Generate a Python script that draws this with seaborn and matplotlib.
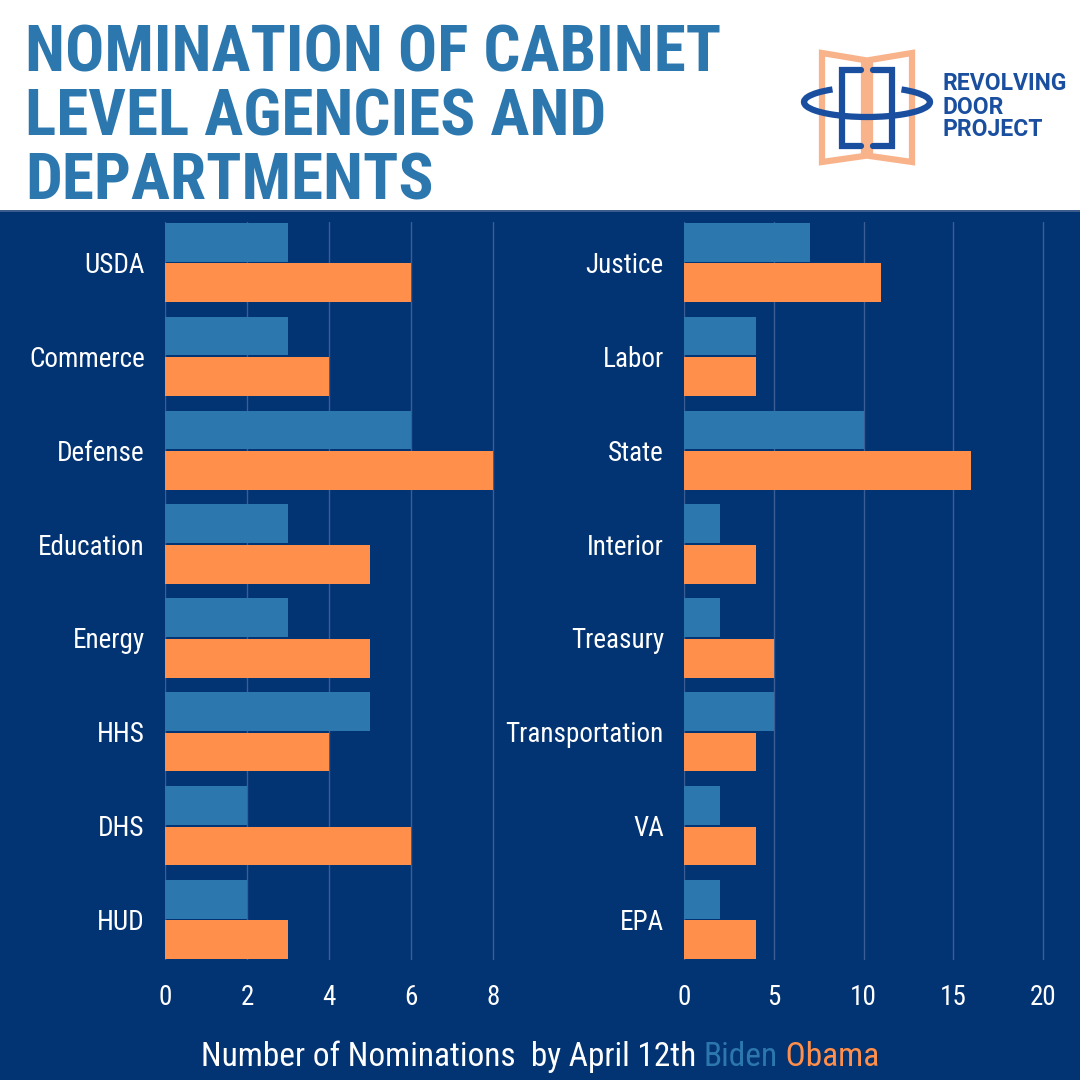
import pandas as pd
import seaborn as sns
import matplotlib.pyplot as plt
from matplotlib import font_manager
from matplotlib.patches import Polygon, Arc, Rectangle

left_depts = ['USDA', 'Commerce', 'Defense', 'Education', 'Energy', 'HHS', 'DHS', 'HUD']
left_biden = [3, 3, 6, 3, 3, 5, 2, 2]
left_obama = [6, 4, 8, 5, 5, 4, 6, 3]

right_depts = ['Justice', 'Labor', 'State', 'Interior', 'Treasury', 'Transportation', 'VA', 'EPA']
right_biden = [7, 4, 10, 2, 2, 5, 2, 2]
right_obama = [11, 4, 16, 4, 5, 4, 4, 4]

left_ticks = [0, 2, 4, 6, 8]
right_ticks = [0, 5, 10, 15, 20]

NAVY = '#023373'
BIDEN = '#2c77ae'
OBAMA = '#ff8f4a'
GRID = '#3b5f94'
LOGO_BLUE = '#1a4fa0'
LOGO_ORANGE = '#f9b38a'

available = {f.name for f in font_manager.fontManager.ttflist}


def pick(*names):
    for n in names:
        if n in available:
            return n
    return 'DejaVu Sans'


label_font = pick('Roboto Condensed', 'Liberation Sans Narrow', 'Open Sans Condensed', 'DejaVu Sans Condensed', 'Roboto')
title_font = pick('Roboto Condensed', 'Liberation Sans Narrow', 'DejaVu Sans Condensed', 'Roboto')

sns.set_theme(style='white')
plt.rcParams['font.family'] = [label_font, 'DejaVu Sans']


def long_form(depts, biden, obama):
    return pd.DataFrame({
        'dept': depts * 2,
        'president': ['Biden'] * len(depts) + ['Obama'] * len(depts),
        'count': biden + obama,
    })


fig = plt.figure(figsize=(10.8, 10.8), dpi=100, facecolor='white')

# navy band under the header
fig.patches.append(Rectangle((0, 0), 1, 1 - 210 / 1080, transform=fig.transFigure,
                             facecolor=NAVY, edgecolor='none', zorder=-2))
fig.patches.append(Rectangle((0, 1 - 212 / 1080), 1, 2 / 1080, transform=fig.transFigure,
                             facecolor='#3a5b8c', edgecolor='none', zorder=-2))

ax_l = fig.add_axes([165 / 1080, 1 - 960 / 1080, 369 / 1080, 738 / 1080])
ax_r = fig.add_axes([684 / 1080, 1 - 960 / 1080, 377 / 1080, 738 / 1080])

panels = [
    (ax_l, long_form(left_depts, left_biden, left_obama), left_depts, left_ticks, 9),
    (ax_r, long_form(right_depts, right_biden, right_obama), right_depts, right_ticks, 21),
]

for ax, df, depts, ticks, xmax in panels:
    sns.barplot(data=df, y='dept', x='count', hue='president', order=depts,
                hue_order=['Biden', 'Obama'], palette={'Biden': BIDEN, 'Obama': OBAMA},
                orient='h', width=0.86, gap=0.04, linewidth=0, saturation=1,
                ax=ax, zorder=3)
    ax.set_facecolor('none')
    ax.legend_.remove()
    ax.set_xlim(0, xmax)
    ax.set_ylim(len(depts) - 1 + 0.43, -0.43)
    ax.set_xticks(ticks)
    for t in ticks:
        ax.axvline(t, color=GRID, linewidth=1, zorder=1)
    for s in ax.spines.values():
        s.set_visible(False)
    ax.set_xlabel('')
    ax.set_ylabel('')
    ax.tick_params(axis='y', length=0, pad=14.5, labelsize=19.5, labelcolor='white')
    ax.tick_params(axis='x', length=0, pad=17, labelsize=19.5, labelcolor='white')

# title
fig.text(25 / 1080, 1 - 118 / 1080, 'NOMINATION OF CABINET\nLEVEL AGENCIES AND\nDEPARTMENTS',
         ha='left', va='center', color=BIDEN, fontsize=47, fontweight='bold',
         family=[title_font, 'DejaVu Sans'], linespacing=1.06)

# logo
lg = fig.add_axes([0, 0, 1, 1], facecolor='none')
lg.set_xlim(0, 1080)
lg.set_ylim(1080, 0)
lg.axis('off')
lg.add_patch(Polygon([(822, 53), (864, 60), (864, 156), (822, 162)], closed=True,
                     fill=False, edgecolor=LOGO_ORANGE, linewidth=4.5, joinstyle='miter'))
lg.add_patch(Polygon([(870, 60), (912, 53), (912, 162), (870, 156)], closed=True,
                     fill=False, edgecolor=LOGO_ORANGE, linewidth=4.5, joinstyle='miter'))
lg.plot([861, 842, 842, 861], [70, 70, 146, 146], color=LOGO_BLUE, linewidth=4.5,
        solid_joinstyle='miter')
lg.plot([873, 892, 892, 873], [70, 70, 146, 146], color=LOGO_BLUE, linewidth=4.5,
        solid_joinstyle='miter')
lg.add_patch(Arc((867, 102), 126, 30, theta1=-20, theta2=200, color=LOGO_BLUE, linewidth=4.5))
lg.text(943, 107, 'REVOLVING\nDOOR\nPROJECT', ha='left', va='center', color=LOGO_BLUE,
        fontsize=16.5, fontweight='bold', family=['Roboto', 'DejaVu Sans'], linespacing=1.0)

# footer with coloured series names
fig.canvas.draw()
renderer = fig.canvas.get_renderer()
parts = [('Number of Nominations  by April 12th ', 'white'), ('Biden', BIDEN), (' Obama', OBAMA)]
texts = []
for s, c in parts:
    texts.append(fig.text(0, 1 - 1057 / 1080, s, color=c, fontsize=24, ha='left', va='center'))
widths = [t.get_window_extent(renderer).width for t in texts]
x = (1080 - sum(widths)) / 2
for t, w in zip(texts, widths):
    t.set_x(x / 1080)
    x += w

fig.savefig('out.png', dpi=100, facecolor='white')
